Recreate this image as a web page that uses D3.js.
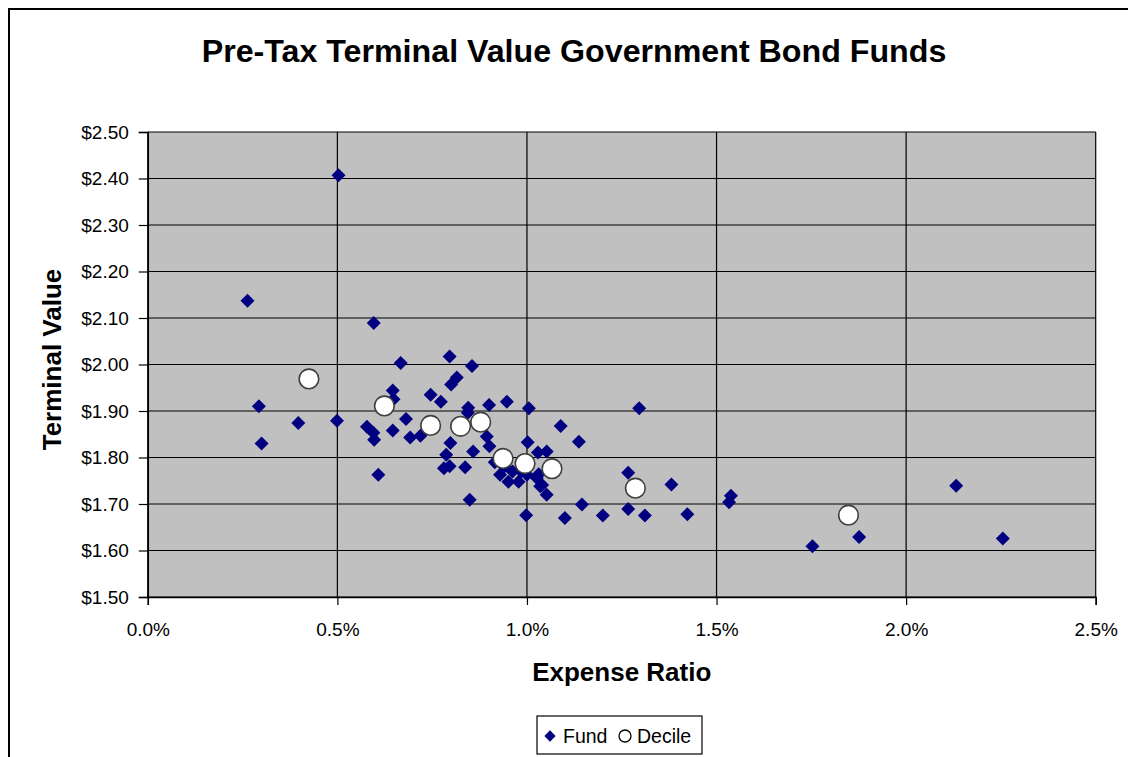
<!DOCTYPE html>
<html>
<head>
<meta charset="utf-8">
<script src="https://cdn.jsdelivr.net/npm/d3@7"></script>
<style>
  body { margin: 0; background: #fff; }
  svg { display: block; font-family: "Liberation Sans", Arial, sans-serif; }
</style>
</head>
<body>
<svg id="chart" width="1128" height="757"></svg>
<script>
// expense ratio (%) and terminal value ($) of each fund
const fundExpense = [0.263, 0.293, 0.300, 0.397, 0.499, 0.503, 0.578, 0.595, 0.597, 0.596,
    0.608, 0.646, 0.648, 0.646, 0.667, 0.681, 0.692, 0.719, 0.746, 0.773,
    0.781, 0.787, 0.796, 0.796, 0.800, 0.798, 0.815, 0.837, 0.845, 0.844,
    0.849, 0.855, 0.858, 0.894, 0.900, 0.901, 0.947, 0.929, 0.951, 0.978,
    1.000, 1.026, 1.035, 1.052, 0.998, 1.002, 1.005, 1.029, 1.052, 1.031,
    1.040, 1.089, 1.137, 1.100, 1.145, 1.200, 1.267, 1.267, 1.296, 1.311,
    1.381, 1.423, 1.533, 1.538, 1.753, 1.876, 2.132, 2.255, 0.940, 0.962,
    0.985, 0.915];
const fundValue = [2.137, 1.910, 1.830, 1.874, 1.879, 2.407, 1.866, 1.853, 1.838, 2.089,
    1.763, 1.944, 1.925, 1.858, 2.003, 1.883, 1.843, 1.847, 1.935, 1.920,
    1.777, 1.806, 1.781, 2.017, 1.957, 1.831, 1.972, 1.779, 1.907, 1.896,
    1.709, 1.997, 1.813, 1.845, 1.913, 1.824, 1.920, 1.763, 1.748, 1.748,
    1.763, 1.756, 1.738, 1.720, 1.676, 1.833, 1.906, 1.811, 1.813, 1.764,
    1.741, 1.868, 1.834, 1.670, 1.699, 1.675, 1.767, 1.689, 1.906, 1.675,
    1.742, 1.678, 1.704, 1.718, 1.609, 1.629, 1.739, 1.626, 1.780, 1.770,
    1.770, 1.790];

// decile averages
const decileExpense = [0.425, 0.624, 0.746, 0.825, 0.878, 0.937, 0.995, 1.066, 1.286, 1.848];
const decileValue = [1.969, 1.911, 1.869, 1.867, 1.876, 1.798, 1.787, 1.776, 1.734, 1.676];

const xTicks = [0, 0.5, 1.0, 1.5, 2.0, 2.5];
const yTicks = [1.5, 1.6, 1.7, 1.8, 1.9, 2.0, 2.1, 2.2, 2.3, 2.4, 2.5];

const svg = d3.select("#chart");

// outer chart frame
svg.append("rect")
    .attr("x", 9).attr("y", 9)
    .attr("width", 1150).attr("height", 770)
    .attr("fill", "#fff").attr("stroke", "#000").attr("stroke-width", 2);

const plotLeft = 147.8, plotRight = 1095.7, plotTop = 132, plotBottom = 597;

const x = d3.scaleLinear().domain([0, 2.5]).range([plotLeft, plotRight]);
const y = d3.scaleLinear().domain([1.5, 2.5]).range([plotBottom, plotTop]);

// plot background
svg.append("rect")
    .attr("x", plotLeft).attr("y", plotTop)
    .attr("width", plotRight - plotLeft).attr("height", plotBottom - plotTop)
    .attr("fill", "#c0c0c0");

// grid lines
svg.append("g").selectAll("line").data(yTicks).enter().append("line")
    .attr("x1", plotLeft).attr("x2", plotRight)
    .attr("y1", d => y(d)).attr("y2", d => y(d))
    .attr("stroke", "#000").attr("stroke-width", 1.2);
svg.append("g").selectAll("line").data(xTicks).enter().append("line")
    .attr("y1", plotTop).attr("y2", plotBottom)
    .attr("x1", d => x(d)).attr("x2", d => x(d))
    .attr("stroke", "#000").attr("stroke-width", 1.2);

// axes
const xAxis = d3.axisBottom(x).tickValues(xTicks).tickSize(8).tickPadding(18)
    .tickFormat(d => d.toFixed(1) + "%");
const yAxis = d3.axisLeft(y).tickValues(yTicks).tickSize(9).tickPadding(10)
    .tickFormat(d => "$" + d.toFixed(2));

const gx = svg.append("g").attr("transform", `translate(0,${plotBottom})`).call(xAxis);
const gy = svg.append("g").attr("transform", `translate(${plotLeft},0)`).call(yAxis);
[gx, gy].forEach(g => {
    g.select(".domain").attr("stroke", "#000").attr("stroke-width", 1.5);
    g.selectAll(".tick line").attr("stroke", "#000").attr("stroke-width", 1.2);
    g.selectAll(".tick text")
        .attr("fill", "#000")
        .style("font-family", "'Liberation Sans', Arial, sans-serif")
        .style("font-size", "19px");
});

// fund diamonds
const diamond = d3.symbol().type(d3.symbolSquare).size(98);
const funds = fundExpense.map((e, i) => ({ e: e, v: fundValue[i] }));
svg.append("g").selectAll("path").data(funds).enter().append("path")
    .attr("d", diamond)
    .attr("transform", d => `translate(${x(d.e)},${y(d.v)}) rotate(45)`)
    .attr("fill", "#000080");

// decile circles
const deciles = decileExpense.map((e, i) => ({ e: e, v: decileValue[i] }));
svg.append("g").selectAll("circle").data(deciles).enter().append("circle")
    .attr("cx", d => x(d.e)).attr("cy", d => y(d.v))
    .attr("r", 9.8)
    .attr("fill", "#fff").attr("stroke", "#404040").attr("stroke-width", 1.6);

// titles
svg.append("text")
    .attr("x", 574).attr("y", 62)
    .attr("text-anchor", "middle")
    .style("font-size", "32.2px").style("font-weight", "bold")
    .text("Pre-Tax Terminal Value Government Bond Funds");

svg.append("text")
    .attr("x", (plotLeft + plotRight) / 2).attr("y", 681)
    .attr("text-anchor", "middle")
    .style("font-size", "26px").style("font-weight", "bold")
    .text("Expense Ratio");

svg.append("text")
    .attr("transform", `translate(61,${(plotTop + plotBottom) / 2 - 5}) rotate(-90)`)
    .attr("text-anchor", "middle")
    .style("font-size", "26px").style("font-weight", "bold")
    .text("Terminal Value");

// legend
const legend = svg.append("g");
legend.append("rect")
    .attr("x", 537).attr("y", 716).attr("width", 165).attr("height", 38)
    .attr("fill", "#fff").attr("stroke", "#000").attr("stroke-width", 1.2);
legend.append("path")
    .attr("d", d3.symbol().type(d3.symbolSquare).size(64))
    .attr("transform", "translate(550,736) rotate(45)")
    .attr("fill", "#000080");
legend.append("text").attr("x", 563).attr("y", 743)
    .style("font-size", "19.5px").text("Fund");
legend.append("circle")
    .attr("cx", 625).attr("cy", 736).attr("r", 6)
    .attr("fill", "#fff").attr("stroke", "#000").attr("stroke-width", 1.3);
legend.append("text").attr("x", 637).attr("y", 743)
    .style("font-size", "19.5px").text("Decile");
</script>
</body>
</html>
